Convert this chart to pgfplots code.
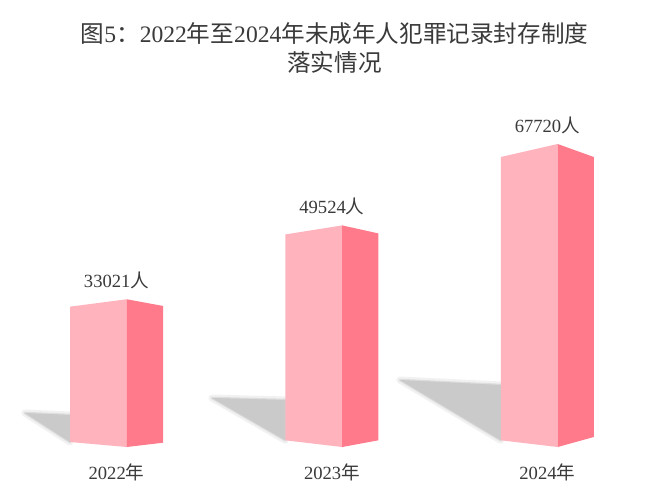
\documentclass[border=0pt]{standalone}
\usepackage{pgfplots}
\pgfplotsset{compat=1.18}
\usepackage{fontspec}
\setmainfont{Liberation Serif}
\newfontfamily\cjk{Noto Sans CJK SC}
\definecolor{front}{HTML}{FFB3BD}
\definecolor{side}{HTML}{FF7B8B}
\definecolor{shadowc}{HTML}{CACACA}
\definecolor{txt}{HTML}{3A3A3A}
\begin{document}
\begin{tikzpicture}
\begin{axis}[
  scale only axis, width=669pt, height=498pt,
  xmin=-0.5409, xmax=2.5650, ymin=-11398.5, ymax=99904.5,
  axis line style={draw=none}, tick style={draw=none},
  major tick length=0pt,
  ytick=\empty, xtick={0,1,2},
  xticklabels={2022{\cjk 年},2023{\cjk 年},2024{\cjk 年}},
  xticklabel style={anchor=base, yshift=19pt, font=\fontsize{18.6}{22}\selectfont, text=txt},
  clip=false,
  axis background/.style={fill=white},
]
% shadows (soft)
\addplot[fill=shadowc, fill opacity=0.35, draw=shadowc, draw opacity=0.25, line width=7pt, line join=round] coordinates {(-0.4248,7599) (-0.2159,7152) (-0.2159,1118)} -- cycle;
\addplot[fill=shadowc, draw=shadowc, draw opacity=0.5, line width=2.5pt, line join=round] coordinates {(-0.4248,7599) (-0.2159,7152) (-0.2159,1118)} -- cycle;
\addplot[fill=shadowc, fill opacity=0.35, draw=shadowc, draw opacity=0.25, line width=7pt, line join=round] coordinates {(0.4434,10952) (0.7841,10505) (0.7841,1497)} -- cycle;
\addplot[fill=shadowc, draw=shadowc, draw opacity=0.5, line width=2.5pt, line join=round] coordinates {(0.4434,10952) (0.7841,10505) (0.7841,1497)} -- cycle;
\addplot[fill=shadowc, fill opacity=0.35, draw=shadowc, draw opacity=0.25, line width=7pt, line join=round] coordinates {(1.3162,14975) (1.7841,13857) (1.7841,1497)} -- cycle;
\addplot[fill=shadowc, draw=shadowc, draw opacity=0.5, line width=2.5pt, line join=round] coordinates {(1.3162,14975) (1.7841,13857) (1.7841,1497)} -- cycle;
% bar 2022: 33021
\addplot[fill=front, draw=none] coordinates {(-0.2159,1118) (0.0478,0) (0.0478,33021) (-0.2159,31367)} -- cycle;
\addplot[fill=side, draw=none] coordinates {(0.0478,0) (0.2159,960) (0.2159,31524) (0.0478,33021)} -- cycle;
% bar 2023: 49524
\addplot[fill=front, draw=none] coordinates {(0.7841,1497) (1.0478,0) (1.0478,49524) (0.7841,47512)} -- cycle;
\addplot[fill=side, draw=none] coordinates {(1.0478,0) (1.2159,1497) (1.2159,47736) (1.0478,49524)} -- cycle;
% bar 2024: 67720
\addplot[fill=front, draw=none] coordinates {(1.7841,1497) (2.0478,0) (2.0478,67720) (1.7841,64814)} -- cycle;
\addplot[fill=side, draw=none] coordinates {(2.0478,0) (2.2159,2235) (2.2159,64814) (2.0478,67720)} -- cycle;
% value labels
\addplot[draw=none, mark=none, point meta=y,
  nodes near coords={\pgfmathprintnumber[fixed, precision=0, 1000 sep={}, assume math mode=true]{\pgfplotspointmeta}{\cjk 人}},
  nodes near coords style={anchor=base, yshift=12pt, font=\fontsize{18.6}{22}\selectfont, text=txt}]
  coordinates {(0,33021) (1,49524) (2,67720)};
\node[anchor=base, font=\fontsize{23.6}{28}\selectfont, text=txt] at (rel axis cs:0.5,0.9137) {{\cjk 图}5{\cjk ：}2022{\cjk 年至}2024{\cjk 年未成年人犯罪记录封存制度}};
\node[anchor=base, font=\fontsize{23.6}{28}\selectfont, text=txt] at (rel axis cs:0.5,0.8574) {{\cjk 落实情况}};
\end{axis}
\end{tikzpicture}
\end{document}
